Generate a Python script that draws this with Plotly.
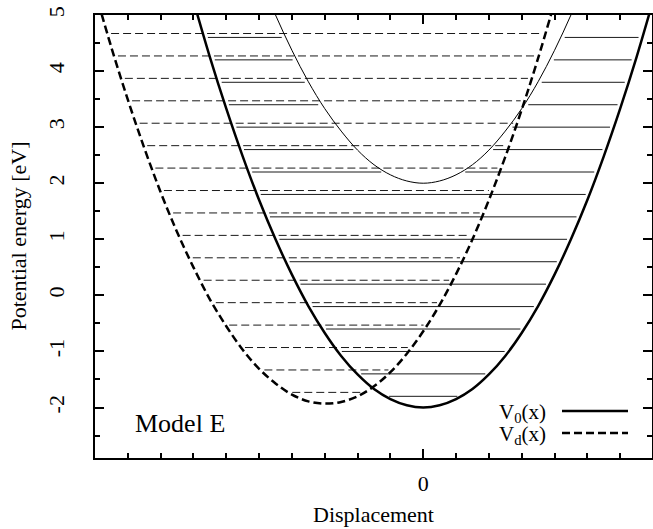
import plotly.graph_objects as go

# ---------------- data ----------------
# Potential V0(x): thick solid curve
v0_x = [-0.70, -0.65, -0.60, -0.55, -0.50, -0.45, -0.40, -0.35, -0.30, -0.25, -0.20, -0.15, -0.10, -0.05,
        0.00, 0.05, 0.10, 0.15, 0.20, 0.25, 0.30, 0.35, 0.40, 0.45, 0.50, 0.55, 0.60, 0.65, 0.70]
v0_y = [5.25, 4.25, 3.33, 2.48, 1.70, 1.00, 0.37, -0.19, -0.67, -1.08, -1.41, -1.67, -1.85, -1.96,
        -2.00, -1.96, -1.85, -1.67, -1.41, -1.08, -0.67, -0.19, 0.37, 1.00, 1.70, 2.48, 3.33, 4.25, 5.25]

# Upper (excited) potential: thin solid curve
v1_x = [-0.50, -0.45, -0.40, -0.35, -0.30, -0.25, -0.20, -0.15, -0.10, -0.05,
        0.00, 0.05, 0.10, 0.15, 0.20, 0.25, 0.30, 0.35, 0.40, 0.45, 0.50]
v1_y = [5.70, 5.00, 4.37, 3.81, 3.33, 2.93, 2.59, 2.33, 2.15, 2.04,
        2.00, 2.04, 2.15, 2.33, 2.59, 2.93, 3.33, 3.81, 4.37, 5.00, 5.70]

# Displaced potential Vd(x): thick dashed curve
vd_x = [-1.00, -0.95, -0.90, -0.85, -0.80, -0.75, -0.70, -0.65, -0.60, -0.55, -0.50, -0.45, -0.40, -0.35,
        -0.30, -0.25, -0.20, -0.15, -0.10, -0.05, 0.00, 0.05, 0.10, 0.15, 0.20, 0.25, 0.30, 0.35, 0.40]
vd_y = [5.43, 4.42, 3.49, 2.63, 1.84, 1.13, 0.50, -0.07, -0.55, -0.97, -1.31, -1.57, -1.77, -1.89,
        -1.93, -1.90, -1.80, -1.62, -1.37, -1.04, -0.64, -0.17, 0.38, 1.00, 1.70, 2.47, 3.31, 4.23, 5.22]

# Vibrational levels of V0 (solid horizontal lines)
v0_levels = [-1.8, -1.4, -1.0, -0.6, -0.2, 0.2, 0.6, 1.0, 1.4, 1.8, 2.2, 2.6, 3.0, 3.4, 3.8, 4.2, 4.6]
v0_left = [-0.104, -0.189, -0.248, -0.296, -0.337, -0.374, -0.407, -0.438, -0.467, -0.495,
           -0.521, -0.546, -0.569, -0.592, -0.614, -0.635, -0.656]
v0_right = [0.104, 0.189, 0.248, 0.296, 0.337, 0.374, 0.407, 0.438, 0.467, 0.495,
            0.521, 0.546, 0.569, 0.592, 0.614, 0.635, 0.656]
# gap where the level lines are hidden inside the upper potential (None = no gap)
v0_gap_left = [None] * 10 + [-0.128, -0.213, -0.272, -0.320, -0.361, -0.398, -0.431]
v0_gap_right = [None] * 10 + [0.128, 0.213, 0.272, 0.320, 0.361, 0.398, 0.431]

# Vibrational levels of Vd (thin dashed horizontal lines)
vd_levels = [-1.73, -1.33, -0.93, -0.53, -0.13, 0.27, 0.67, 1.07, 1.47, 1.87, 2.27, 2.67, 3.07, 3.47, 3.87, 4.27, 4.67]
vd_left = [-0.399, -0.484, -0.543, -0.591, -0.632, -0.669, -0.702, -0.733, -0.762, -0.790,
           -0.816, -0.841, -0.864, -0.887, -0.909, -0.930, -0.951]
vd_right = [-0.191, -0.106, -0.047, 0.001, 0.042, 0.079, 0.112, 0.143, 0.172, 0.200,
            0.226, 0.251, 0.274, 0.297, 0.319, 0.340, 0.361]

y_tick_vals = [-2, -1, 0, 1, 2, 3, 4, 5]
y_tick_text = ["-2", "-1", "0", "1", "2", "3", "4", "5"]
x_tick_vals = [0]
x_tick_text = ["0"]

# ---------------- build segments ----------------
sx, sy = [], []
for e, l, r, gl, gr in zip(v0_levels, v0_left, v0_right, v0_gap_left, v0_gap_right):
    if gl is None:
        sx += [l, r, None]; sy += [e, e, None]
    else:
        sx += [l, gl, None, gr, r, None]; sy += [e, e, None, e, e, None]

dx, dy = [], []
for e, l, r in zip(vd_levels, vd_left, vd_right):
    dx += [l, r, None]; dy += [e, e, None]

FONT = "Liberation Serif, Times New Roman, serif"

fig = go.Figure()
fig.add_trace(go.Scatter(x=dx, y=dy, mode="lines", showlegend=False, hoverinfo="skip",
                         line=dict(color="#1a1a1a", width=1, dash="8px,4px")))
fig.add_trace(go.Scatter(x=sx, y=sy, mode="lines", showlegend=False, hoverinfo="skip",
                         line=dict(color="#1a1a1a", width=1)))
fig.add_trace(go.Scatter(x=v1_x, y=v1_y, mode="lines", showlegend=False,
                         line=dict(color="black", width=1, shape="spline")))
fig.add_trace(go.Scatter(x=vd_x, y=vd_y, mode="lines", name="V<sub>d</sub>(x)", showlegend=False,
                         line=dict(color="black", width=2.5, dash="8px,4px", shape="spline")))
fig.add_trace(go.Scatter(x=v0_x, y=v0_y, mode="lines", name="V<sub>0</sub>(x)", showlegend=False,
                         line=dict(color="black", width=2.5, shape="spline")))

W, H = 653, 529
ML, MR, MT, MB = 95, 1, 15, 71
pw, ph = W - ML - MR, H - MT - MB

def px_x(p):
    return (p - ML) / pw

def px_y(p):
    return (H - MB - p) / ph

annotations = [
    dict(text="Model E", x=px_x(180), y=px_y(423), xref="paper", yref="paper",
         showarrow=False, xanchor="center", yanchor="middle", font=dict(family=FONT, size=26, color="black")),
    dict(text="V<sub>0</sub>(x)", x=px_x(548), y=px_y(413), xref="paper", yref="paper",
         showarrow=False, xanchor="right", yanchor="middle", font=dict(family=FONT, size=21, color="black")),
    dict(text="V<sub>d</sub>(x)", x=px_x(548), y=px_y(435), xref="paper", yref="paper",
         showarrow=False, xanchor="right", yanchor="middle", font=dict(family=FONT, size=21, color="black")),
    dict(text="Displacement", x=0.5, y=px_y(514), xref="paper", yref="paper",
         showarrow=False, xanchor="center", yanchor="middle", font=dict(family=FONT, size=22, color="black")),
    dict(text="Potential energy [eV]", x=px_x(18), y=0.5, xref="paper", yref="paper", textangle=-90,
         showarrow=False, xanchor="center", yanchor="middle", font=dict(family=FONT, size=22, color="black")),
]

shapes = [
    dict(type="line", xref="paper", yref="paper", x0=px_x(562), x1=px_x(628), y0=px_y(411), y1=px_y(411),
         line=dict(color="black", width=2.5)),
    dict(type="line", xref="paper", yref="paper", x0=px_x(562), x1=px_x(628), y0=px_y(433), y1=px_y(433),
         line=dict(color="black", width=2.5, dash="8px,4px")),
]

fig.update_layout(
    width=W, height=H,
    margin=dict(l=ML, r=MR, t=MT, b=MB, autoexpand=False),
    paper_bgcolor="white", plot_bgcolor="white",
    font=dict(family=FONT, size=22, color="black"),
    annotations=annotations, shapes=shapes,
    xaxis=dict(range=[-1, 0.697], showline=True, linecolor="black", linewidth=2, mirror="ticks",
               ticks="inside", ticklen=9, tickwidth=2, tickcolor="black",
               tickmode="array", tickvals=x_tick_vals, ticktext=x_tick_text,
               minor=dict(ticks="inside", dtick=0.1, tick0=0, ticklen=5, tickwidth=2, tickcolor="black", showgrid=False),
               showgrid=False, zeroline=False, ticklabelstandoff=5,
               tickfont=dict(family=FONT, size=22)),
    yaxis=dict(range=[-2.9, 5], showline=True, linecolor="black", linewidth=2, mirror="ticks",
               ticks="inside", ticklen=9, tickwidth=2, tickcolor="black",
               tickmode="array", tickvals=y_tick_vals, ticktext=y_tick_text, tickangle=-90,
               minor=dict(ticks="inside", dtick=0.5, tick0=0, ticklen=5, tickwidth=2, tickcolor="black", showgrid=False),
               showgrid=False, zeroline=False, ticklabelstandoff=20,
               tickfont=dict(family=FONT, size=22)),
)

fig.write_html("out.html", config={"displayModeBar": False},
               post_script="document.body.style.margin='0';document.body.style.overflow='hidden';")
